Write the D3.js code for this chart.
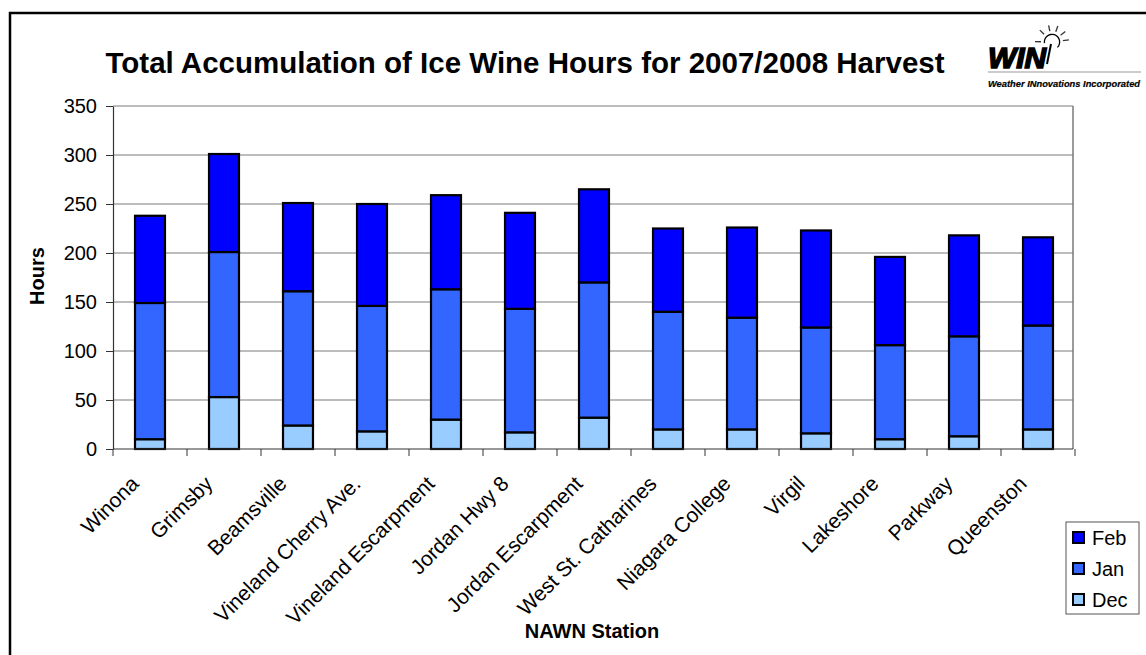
<!DOCTYPE html>
<html lang="en">
<head>
<meta charset="UTF-8">
<title>Total Accumulation of Ice Wine Hours for 2007/2008 Harvest</title>
<script src="https://d3js.org/d3.v7.min.js"></script>
<style>
    body { margin: 0; background: #fff; font-family: Arial, "Liberation Sans", sans-serif; }
    svg text { font-family: Arial, "Liberation Sans", sans-serif; fill: #000; }
</style>
</head>
<body>
<div id="chart"></div>
<script>
// data
const stations = ["Winona", "Grimsby", "Beamsville", "Vineland Cherry Ave.", "Vineland Escarpment",
    "Jordan Hwy 8", "Jordan Escarpment", "West St. Catharines", "Niagara College", "Virgil",
    "Lakeshore", "Parkway", "Queenston"];
const decHours = [10, 53, 24, 18, 30, 17, 32, 20, 20, 16, 10, 13, 20];
const janHours = [139, 148, 137, 128, 133, 126, 138, 120, 114, 108, 96, 102, 106];
const febHours = [89, 100, 90, 104, 96, 98, 95, 85, 92, 99, 90, 103, 90];
const months = ["Dec", "Jan", "Feb"];
const yTicks = [0, 50, 100, 150, 200, 250, 300, 350];

const width = 1146, height = 655;
const plot = { left: 113, right: 1073, top: 106, bottom: 449 };
const colors = { Dec: "#99CCFF", Jan: "#3366FF", Feb: "#0000FF" };

const svg = d3.select("#chart").append("svg")
    .attr("width", width)
    .attr("height", height);

// outer frame (runs off the right and bottom edges)
svg.append("rect")
    .attr("x", 10).attr("y", 13)
    .attr("width", 1200).attr("height", 700)
    .attr("fill", "none").attr("stroke", "#000").attr("stroke-width", 2.5);

const rows = stations.map((s, i) => ({ station: s, Dec: decHours[i], Jan: janHours[i], Feb: febHours[i] }));
const series = d3.stack().keys(months)(rows);

const x = d3.scaleBand().domain(stations).range([plot.left, plot.left + 74 * stations.length]);
const y = d3.scaleLinear().domain([0, 350]).range([plot.bottom, plot.top]);
const barW = x.bandwidth() * 0.405;

// gridlines
svg.append("g")
    .selectAll("line")
    .data(yTicks.slice(1))
    .join("line")
    .attr("x1", plot.left).attr("x2", plot.right)
    .attr("y1", d => y(d)).attr("y2", d => y(d))
    .attr("stroke", "#7a7a7a").attr("stroke-width", 1.2);

svg.append("line")
    .attr("x1", plot.right).attr("x2", plot.right)
    .attr("y1", y(350)).attr("y2", y(0))
    .attr("stroke", "#7a7a7a").attr("stroke-width", 1.5);

// bars
svg.append("g")
    .selectAll("g")
    .data(series)
    .join("g")
    .attr("fill", d => colors[d.key])
    .selectAll("rect")
    .data(d => d)
    .join("rect")
    .attr("x", d => x(d.data.station) + (x.bandwidth() - barW) / 2)
    .attr("y", d => y(d[1]))
    .attr("width", barW)
    .attr("height", d => y(d[0]) - y(d[1]))
    .attr("stroke", "#000")
    .attr("stroke-width", 2.2);

// y axis
const yAxis = svg.append("g")
    .attr("transform", `translate(${plot.left},0)`)
    .call(d3.axisLeft(y).tickValues(yTicks).tickSize(7).tickPadding(9).tickSizeOuter(0));
yAxis.select(".domain").attr("stroke", "#333").attr("stroke-width", 1.2);
yAxis.selectAll(".tick line").attr("stroke", "#333");
yAxis.selectAll(".tick text")
    .style("font-size", "20px")
    .attr("fill", "#000");

// x axis: ticks at category boundaries
const xAxis = svg.append("g");
xAxis.append("line")
    .attr("x1", plot.left).attr("x2", plot.right)
    .attr("y1", plot.bottom).attr("y2", plot.bottom)
    .attr("stroke", "#333").attr("stroke-width", 1.2);
xAxis.selectAll(".xtick")
    .data(stations.concat(["end"]))
    .join("line")
    .attr("class", "xtick")
    .attr("x1", (d, i) => plot.left + i * x.step())
    .attr("x2", (d, i) => plot.left + i * x.step())
    .attr("y1", plot.bottom).attr("y2", plot.bottom + 7)
    .attr("stroke", "#333");

xAxis.selectAll(".xlabel")
    .data(stations)
    .join("text")
    .attr("class", "xlabel")
    .attr("text-anchor", "end")
    .attr("transform", d => `translate(${x(d) + x.bandwidth() / 2 - 10},${plot.bottom + 36}) rotate(-45)`)
    .style("font-size", "21px")
    .text(d => d);

// axis titles
svg.append("text")
    .attr("transform", "translate(44,276) rotate(-90)")
    .attr("text-anchor", "middle")
    .style("font-size", "20px").style("font-weight", "bold")
    .text("Hours");

svg.append("text")
    .attr("x", 592).attr("y", 638)
    .attr("text-anchor", "middle")
    .style("font-size", "20px").style("font-weight", "bold")
    .text("NAWN Station");

// chart title
svg.append("text")
    .attr("x", 525).attr("y", 73)
    .attr("text-anchor", "middle")
    .style("font-size", "29.5px").style("font-weight", "bold")
    .text("Total Accumulation of Ice Wine Hours for 2007/2008 Harvest");

// legend (Feb on top)
const legend = svg.append("g");
legend.append("rect")
    .attr("x", 1066).attr("y", 522)
    .attr("width", 73).attr("height", 92)
    .attr("fill", "#fff").attr("stroke", "#555").attr("stroke-width", 1);
const legendItems = legend.selectAll(".item")
    .data(months.slice().reverse())
    .join("g")
    .attr("class", "item")
    .attr("transform", (d, i) => `translate(1073,${538 + i * 31})`);
legendItems.append("rect")
    .attr("x", 0).attr("y", -6)
    .attr("width", 11).attr("height", 11)
    .attr("fill", d => colors[d])
    .attr("stroke", "#000").attr("stroke-width", 2);
legendItems.append("text")
    .attr("x", 19).attr("y", 7)
    .style("font-size", "20px")
    .text(d => d);

// WIN logo
const logo = svg.append("g");
logo.append("text")
    .attr("x", 988).attr("y", 68)
    .style("font-size", "30px").style("font-weight", "bold").style("font-style", "italic")
    .attr("stroke", "#000").attr("stroke-width", 1.6)
    .attr("textLength", 58).attr("lengthAdjust", "spacingAndGlyphs")
    .text("WIN");
logo.append("line")
    .attr("x1", 988).attr("x2", 1141).attr("y1", 72).attr("y2", 72)
    .attr("stroke", "#999").attr("stroke-width", 1.2);
logo.append("text")
    .attr("x", 988).attr("y", 87)
    .style("font-size", "9px").style("font-weight", "bold").style("font-style", "italic")
    .attr("stroke", "#000").attr("stroke-width", 0.2)
    .attr("textLength", 152).attr("lengthAdjust", "spacingAndGlyphs")
    .text("Weather INnovations Incorporated");
const sun = { cx: 1052, cy: 42, r: 7 };
logo.append("path")
    .attr("d", d3.arc()({ innerRadius: sun.r, outerRadius: sun.r + 1.3, startAngle: -Math.PI * 0.55, endAngle: Math.PI * 0.75 }))
    .attr("transform", `translate(${sun.cx},${sun.cy})`)
    .attr("fill", "#000");
logo.append("line")
    .attr("x1", 1047).attr("x2", 1051).attr("y1", 64).attr("y2", 44)
    .attr("stroke", "#000").attr("stroke-width", 2);
logo.selectAll(".ray")
    .data([-0.8, -0.2, 0.35, 0.9, 1.45, -1.55])
    .join("line")
    .attr("class", "ray")
    .attr("x1", a => sun.cx + Math.sin(a) * 11).attr("y1", a => sun.cy - Math.cos(a) * 11)
    .attr("x2", a => sun.cx + Math.sin(a) * 17).attr("y2", a => sun.cy - Math.cos(a) * 17)
    .attr("stroke", "#333").attr("stroke-width", 1.3);
</script>
</body>
</html>
